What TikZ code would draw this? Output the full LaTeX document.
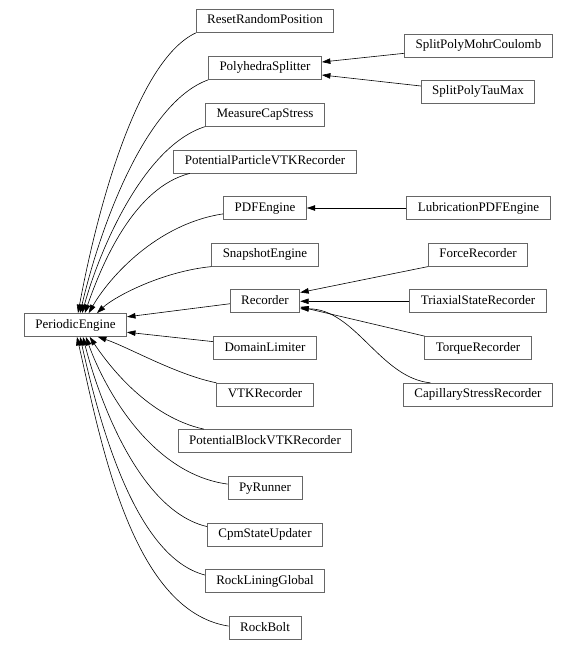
\documentclass[tikz,border=0pt]{standalone}
\usepackage{fontspec}
\setmainfont{Liberation Serif}
\usetikzlibrary{arrows.meta}

\begin{document}
\begin{tikzpicture}[x=1pt, y=-1pt,
	cls/.style={draw=black!60, line width=0.8pt, minimum height=23pt,
		inner xsep=11pt, inner ysep=0pt, text height=9pt, text depth=3pt,
		font=\fontsize{13}{15}\selectfont},
	inh/.style={-{Triangle[length=8.5pt,width=5.5pt]}, line width=0.6pt}]
	
	\useasboundingbox (0,0) rectangle (578,650);
	
	% base class
	\node[cls] (pe) at (75.5,325) {PeriodicEngine};
	
	% derived engines
	\node[cls] (reset) at (265,21) {ResetRandomPosition};
	\node[cls] (poly) at (265,68) {PolyhedraSplitter};
	\node[cls] (mcs) at (265,114.7) {MeasureCapStress};
	\node[cls] (pvtk) at (265,161.5) {PotentialParticleVTKRecorder};
	\node[cls] (pdf) at (265,208) {PDFEngine};
	\node[cls] (snap) at (265,254.7) {SnapshotEngine};
	\node[cls] (rec) at (265,301.3) {Recorder};
	\node[cls] (dom) at (265,348) {DomainLimiter};
	\node[cls] (vtk) at (265,394.7) {VTKRecorder};
	\node[cls] (pbvtk) at (265,441) {PotentialBlockVTKRecorder};
	\node[cls] (py) at (265,488) {PyRunner};
	\node[cls] (cpm) at (265,534.7) {CpmStateUpdater};
	\node[cls] (rlg) at (265,581.3) {RockLiningGlobal};
	\node[cls] (bolt) at (265,628) {RockBolt};
	
	% third level
	\node[cls] (mohr) at (478.5,45.5) {SplitPolyMohrCoulomb};
	\node[cls] (taumax) at (478,92) {SplitPolyTauMax};
	\node[cls] (lub) at (478.5,208) {LubricationPDFEngine};
	\node[cls] (force) at (478,254.7) {ForceRecorder};
	\node[cls] (triax) at (478,301.3) {TriaxialStateRecorder};
	\node[cls] (torque) at (478,348) {TorqueRecorder};
	\node[cls] (cap) at (478,394.7) {CapillaryStressRecorder};
	
	% edges to PeriodicEngine
	\draw[inh] (reset.south west) .. controls +(-60,28) and +(18,-98) .. (pe.78);
	\draw[inh] (poly.south west) .. controls +(-64,23) and +(19,-82) .. (pe.69);
	\draw[inh] (mcs.south west) .. controls +(-61,19) and +(18,-65) .. (pe.61);
	\draw[inh] (pvtk.189) .. controls +(-56,14) and +(17,-49) .. (pe.52);
	\draw[inh] (pdf.188) .. controls +(-67,10) and +(20,-35) .. (pe.42);
	\draw[inh] (snap.south west) .. controls +(-50,5) and +(17,-16) .. (pe.29);
	\draw[inh] (rec.184) -- (pe.9);
	\draw[inh] (dom.173) -- (pe.-8);
	\draw[inh] (vtk.north west) .. controls +(-40,-8) and +(30,10) .. (pe.-28);
	\draw[inh] (pbvtk.169) .. controls +(-55,-12) and +(20,30) .. (pe.-40);
	\draw[inh] (py.174) .. controls +(-75,-10) and +(20,55) .. (pe.-49);
	\draw[inh] (cpm.172) .. controls +(-65,-15) and +(18,70) .. (pe.-58);
	\draw[inh] (rlg.174) .. controls +(-70,-18) and +(19,85) .. (pe.-69);
	\draw[inh] (bolt.177) .. controls +(-98,-15) and +(23,100) .. (pe.-83);
	
	% edges to second level
	\draw[inh] (mohr.186) -- (poly.6);
	\draw[inh] (taumax.174) -- (poly.-7);
	\draw[inh] (lub.west) -- (pdf.east);
	\draw[inh] (force.south west) -- (rec.14);
	\draw[inh] (triax.west) -- (rec.east);
	\draw[inh] (torque.north west) -- (rec.-9);
	\draw[inh] (cap.166) .. controls +(-50,-5) and +(55,0) .. (rec.-12);
	
\end{tikzpicture}
\end{document}
